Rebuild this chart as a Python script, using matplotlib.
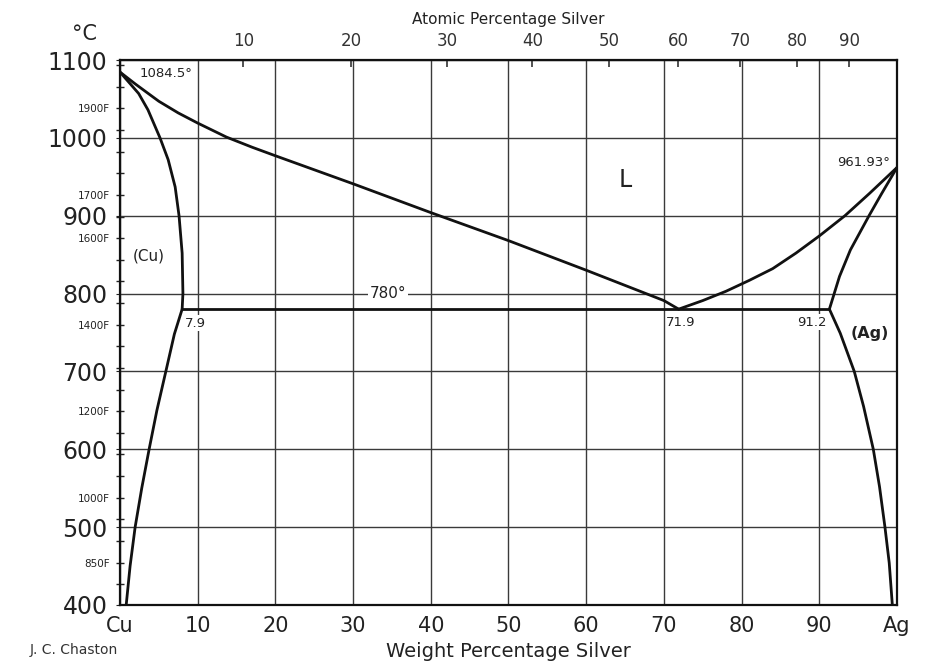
import numpy as np
import matplotlib
matplotlib.use('Agg')
import matplotlib.pyplot as plt
from matplotlib.ticker import FixedLocator, FuncFormatter

# Cu-Ag phase diagram, weight % Ag vs temperature in deg C
liq_cu_wt = [0, 2, 5, 7.5, 10, 13.7, 17, 20, 25, 30, 40, 50, 60, 70, 71.9]
liq_cu_t = [1084.5, 1069, 1047, 1032, 1019, 1001, 988, 977, 959, 941, 904, 868, 830, 791, 780]
liq_ag_wt = [71.9, 75, 78, 81, 84, 87, 90, 93.3, 96.5, 100]
liq_ag_t = [780, 791, 803, 817, 832, 852, 874, 900, 929, 961.93]
sol_cu_wt = [0, 2.4, 3.6, 5.15, 6.2, 7.1, 7.6, 8.0, 8.1, 8.0]
sol_cu_t = [1084.5, 1057, 1036, 1000, 972, 937, 900, 852, 800, 780]
sol_ag_wt = [100, 98.0, 96.4, 94.0, 92.6, 91.3]
sol_ag_t = [961.93, 928, 900, 856, 822, 780]
solv_cu_wt = [8.0, 7.0, 5.9, 4.75, 3.75, 2.8, 1.95, 1.3, 0.8]
solv_cu_t = [780, 748, 700, 650, 600, 550, 500, 450, 400]
solv_ag_wt = [91.3, 92.7, 94.5, 95.7, 96.95, 97.75, 98.45, 99.0, 99.4]
solv_ag_t = [780, 749, 700, 655, 600, 552, 500, 454, 400]
eut_wt = [8.0, 91.3]
eut_t = [780, 780]

wt_ticks = [0, 10, 20, 30, 40, 50, 60, 70, 80, 90, 100]
wt_labels = ['Cu', '10', '20', '30', '40', '50', '60', '70', '80', '90', 'Ag']
temp_ticks = [400, 500, 600, 700, 800, 900, 1000, 1100]
at_ticks = [10, 20, 30, 40, 50, 60, 70, 80, 90]
f_ticks = list(range(800, 2001, 50))
f_labelled = [850, 1000, 1200, 1400, 1600, 1700, 1900]

M_AG = 107.87
M_CU = 63.55

def wt2at(w):
    w = np.asarray(w, dtype=float)
    with np.errstate(divide='ignore', invalid='ignore'):
        return 100 * (w / M_AG) / (w / M_AG + (100 - w) / M_CU)

def at2wt(a):
    a = np.asarray(a, dtype=float)
    with np.errstate(divide='ignore', invalid='ignore'):
        return 100 * a * M_AG / (a * M_AG + (100 - a) * M_CU)

def c2f(c):
    return np.asarray(c, dtype=float) * 9 / 5 + 32

def f2c(f):
    return (np.asarray(f, dtype=float) - 32) * 5 / 9

txt = '#222222'
line_c = '#111111'

fig = plt.figure(figsize=(9.47, 6.69), dpi=100)
ax = fig.add_axes([0.1267, 0.0957, 0.8205, 0.8146])
ax.set_xlim(0, 100)
ax.set_ylim(400, 1100)

ax.set_xticks(wt_ticks)
ax.set_xticklabels(wt_labels)
ax.set_yticks(temp_ticks)
ax.grid(True, color='#3a3a3a', lw=1.0)
ax.tick_params(axis='x', length=0, labelsize=15, pad=8, colors=txt)
ax.tick_params(axis='y', length=3, labelsize=17, pad=6, colors=txt)
for s in ax.spines.values():
    s.set_linewidth(1.6)
    s.set_color('#111111')

# phase boundaries
for xs, ys in [(liq_cu_wt, liq_cu_t), (liq_ag_wt, liq_ag_t), (sol_cu_wt, sol_cu_t),
               (sol_ag_wt, sol_ag_t), (solv_cu_wt, solv_cu_t), (solv_ag_wt, solv_ag_t),
               (eut_wt, eut_t)]:
    ax.plot(xs, ys, color=line_c, lw=2.0, zorder=5,
            solid_capstyle='round', solid_joinstyle='round')

# fahrenheit scale on the left
sec = ax.secondary_yaxis('left', functions=(c2f, f2c))
sec.yaxis.set_major_locator(FixedLocator(f_ticks))
sec.yaxis.set_major_formatter(FuncFormatter(
    lambda v, p: f'{v:.0f}F' if int(round(v)) in f_labelled else ''))
sec.tick_params(direction='inout', length=6, width=1, labelsize=7.5, pad=4, colors=txt)
sec.spines['left'].set_visible(False)

# atomic percentage on top
top = ax.secondary_xaxis('top', functions=(wt2at, at2wt))
top.set_xticks(at_ticks)
top.tick_params(direction='in', length=5, width=1.2, labelsize=12, pad=7, colors='#333333')
top.set_xlabel('Atomic Percentage Silver', fontsize=11, labelpad=6, color=txt)
top.spines['top'].set_visible(False)

ax.set_xlabel('Weight Percentage Silver', fontsize=14, labelpad=4, color=txt)

wb = dict(facecolor='white', edgecolor='none', pad=1)
ax.text(2.57, 1083, '1084.5°', fontsize=9.5, ha='left', va='center', color=txt, bbox=wb, zorder=4)
ax.text(99.1, 968, '961.93°', fontsize=9.5, ha='right', va='center', color=txt, zorder=4)
ax.text(65.0, 946, 'L', fontsize=17, ha='center', va='center', color=txt)
ax.text(1.7, 848, '(Cu)', fontsize=11, ha='left', va='center', color=txt)
ax.text(34.5, 800, '780°', fontsize=11, ha='center', va='center', color=txt, bbox=wb, zorder=4)
ax.text(8.4, 762, '7.9', fontsize=9.5, ha='left', va='center', color=txt, bbox=wb, zorder=4)
ax.text(70.2, 763, '71.9', fontsize=9.5, ha='left', va='center', color=txt, zorder=4)
ax.text(87.1, 763, '91.2', fontsize=9.5, ha='left', va='center', color=txt, bbox=wb, zorder=4)
ax.text(94.0, 749, '(Ag)', fontsize=11.5, ha='left', va='center', color=txt, fontweight='semibold')

fig.text(84 / 947, 1 - 34 / 669, '°C', fontsize=15, ha='center', va='center', color=txt)
fig.text(30 / 947, 1 - 650 / 669, 'J. C. Chaston', fontsize=10, ha='left', va='center', color='#333333')

fig.savefig('out.png', dpi=100)
